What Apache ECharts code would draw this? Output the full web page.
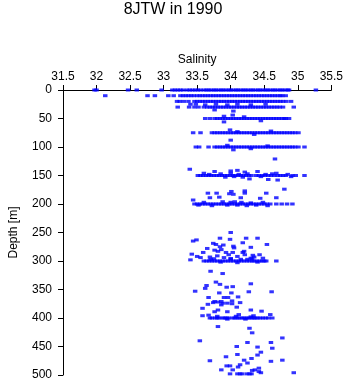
<!DOCTYPE html>
<html><head><meta charset="utf-8">
<script src="https://cdn.jsdelivr.net/npm/echarts@6/dist/echarts.min.js"></script>
<style>html,body{margin:0;padding:0;background:#fff}#c{width:346px;height:384px}</style>
</head><body><div id="c"></div>
<script>
// Salinity ticks
const salTicks = [31.5, 32, 32.5, 33, 33.5, 34, 34.5, 35, 35.5];
const depthTicks = [0, 50, 100, 150, 200, 250, 300, 350, 400, 450, 500];

// Dense standard-depth rows: salinity values read at each depth
const row0 = [31.97,32.00,32.47,32.60,32.97,33.13,33.17,33.21,33.25,33.29,33.35,33.39,33.43,33.47,33.51,33.55,
  33.60,33.64,33.67,33.71,33.75,33.78,33.82,33.86,33.89,33.93,33.97,34.00,34.04,34.08,34.11,34.15,34.19,34.22,
  34.26,34.30,34.33,34.37,34.41,34.44,34.48,34.52,34.55,34.59,34.63,34.66,34.70,34.74,34.77,34.81,34.85,34.87,35.27];
const row10 = [32.13,32.76,32.87,33.07,33.15,33.25,33.29,33.33,33.37,33.41,33.45,33.50,33.54,33.58,33.62,33.66,
  33.70,33.74,33.78,33.82,33.86,33.90,33.94,33.98,34.02,34.06,34.10,34.14,34.18,34.22,34.26,34.30,34.34,34.38,
  34.42,34.46,34.50,34.54,34.58,34.62,34.66,34.70,34.74,34.77,34.82];
const row20 = [33.20,33.24,33.30,33.37,33.46,33.50,33.54,33.58,33.62,33.66,33.70,33.74,33.78,33.82,33.86,33.90,
  33.94,33.98,34.02,34.06,34.10,34.14,34.18,34.22,34.26,34.30,34.34,34.38,34.42,34.46,34.50,34.54,34.58,34.62,
  34.66,34.70,34.74,34.78,34.83,34.90];
const row30 = [33.21,33.38,33.46,33.52,33.60,33.65,33.69,33.73,33.77,33.81,33.85,33.89,33.93,33.97,34.01,34.05,
  34.09,34.13,34.17,34.21,34.25,34.29,34.33,34.37,34.41,34.45,34.49,34.53,34.57,34.61,34.65,34.69,34.73,34.78,34.94];
const row50 = [33.62,33.69,33.76,33.80,33.84,33.88,33.92,33.96,34.00,34.04,34.08,34.12,34.16,34.20,34.24,34.28,
  34.32,34.36,34.40,34.44,34.48,34.52,34.56,34.60,34.64,34.68,34.72,34.76,34.80,34.82,34.87];
const row75 = [33.44,33.55,33.72,33.76,33.80,33.84,33.88,33.92,33.96,34.00,34.04,34.08,34.12,34.16,34.20,34.24,
  34.28,34.32,34.36,34.40,34.44,34.48,34.52,34.56,34.60,34.64,34.68,34.72,34.76,34.80,34.84,34.88,34.92,34.96,35.01];
const row100 = [33.48,33.53,33.67,33.76,33.80,33.84,33.88,33.92,33.96,34.00,34.04,34.08,34.12,34.16,34.20,34.24,
  34.28,34.32,34.36,34.40,34.44,34.48,34.52,34.56,34.60,34.64,34.68,34.72,34.76,34.80,34.84,34.88,34.92,34.96,35.01,35.10];
const row150 = [33.51,33.55,33.59,33.63,33.67,33.71,33.75,33.79,33.83,33.87,33.91,33.95,33.99,34.03,34.07,34.11,
  34.15,34.19,34.23,34.27,34.31,34.38,34.42,34.47,34.51,34.56,34.60,34.65,34.70,34.74,34.78,34.82,34.92,34.97,35.10];
const row200 = [33.46,33.50,33.54,33.58,33.62,33.66,33.70,33.74,33.78,33.82,33.86,33.90,33.94,33.98,34.02,34.06,
  34.10,34.14,34.18,34.22,34.26,34.30,34.34,34.38,34.42,34.46,34.50,34.54,34.59,34.68,34.76,34.84,34.92];
const row300 = [33.60,33.64,33.68,33.72,33.76,33.80,33.84,33.88,33.92,33.96,34.00,34.04,34.08,34.12,34.16,34.20,
  34.24,34.28,34.32,34.35,34.39,34.43,34.47,34.50,34.53,34.68];
const row400 = [33.69,33.72,33.77,33.80,33.83,33.88,33.91,33.94,33.97,34.03,34.06,34.10,34.13,34.17,34.20,34.24,
  34.27,34.31,34.34,34.37,34.40,34.44,34.48,34.52,34.56,34.62];

// Observations just off the standard depths [salinity, depth]
const nearRows = [[33.40,25],[33.48,25],[33.62,26],[33.78,25],[33.95,26],[34.10,25],[34.30,26],[34.52,25],
  [33.90,46],[34.20,47],[34.45,54],[34.10,73],[34.35,78],[34.60,72],[33.95,97],[34.30,103],[34.55,98],
  [33.60,146],[33.68,148],[33.85,147],[33.92,153],[34.00,146],[34.05,152],[34.12,148],[34.18,153],
  [34.25,147],[34.45,152],[34.52,148],[34.62,147],[34.85,148],[34.90,152],
  [33.52,202],[33.60,197],[33.72,203],[33.88,196],[33.95,202],[34.00,197],[34.06,196],[34.10,202],
  [34.16,197],[34.24,203],[34.30,198],[34.38,202],[34.48,197],[34.55,203],
  [33.70,297],[33.85,302],[34.00,296],[34.10,303],[34.25,297],[34.32,296],[34.40,302],
  [33.80,397],[33.95,402],[34.08,397],[34.22,402],[34.30,398]];

// Scattered observations [salinity, depth]
const scatterShallow = [[33.76,35],[34.04,37],[34.03,44],[33.90,56],[33.99,70],[34.00,88],[34.04,105],
  [34.66,121],[33.39,139],[33.76,143],[34.00,142],[34.10,141],[34.21,144],[34.40,143],[34.68,146],
  [34.28,156],[34.56,157],[34.70,158],[34.80,174],[34.01,178],[34.21,177],[33.66,181],[33.79,181],
  [33.98,182],[34.04,183],[34.21,181],[34.53,181],[33.69,189],[33.83,188],[34.15,189],[34.44,190],
  [34.68,189],[33.44,193]];
const scatter250 = [[34.00,250],[33.84,260],[33.99,262],[34.23,260],[34.40,260],[33.44,265],[33.49,263],
  [34.18,268],[33.74,269],[33.78,271],[34.54,271],[33.89,272],[34.04,274],[33.84,275],[34.05,277],
  [33.65,278],[34.30,276],[33.76,281],[33.81,283],[33.86,280],[33.59,285],[33.93,285],[34.03,285],
  [34.18,285],[34.20,283],[33.42,288],[34.21,289],[34.43,289],[34.33,290],[34.35,293],[33.50,292],
  [33.55,294],[33.69,293],[33.80,291],[33.90,294],[33.97,289],[34.10,292],[34.30,295],[34.48,295],
  [33.40,298],[33.75,296],[34.00,296],[34.15,297]];
const scatter350 = [[33.70,318],[33.88,322],[33.78,337],[33.84,341],[34.30,340],[33.64,343],[33.94,346],
  [34.03,345],[33.62,348],[33.47,353],[33.83,356],[34.01,356],[34.27,354],[34.61,354],[33.67,364],
  [33.90,364],[33.96,364],[34.11,363],[34.02,370],[33.76,371],[33.81,372],[33.86,371],[33.66,376],
  [33.74,373],[33.88,374],[33.95,374],[34.14,373],[34.02,375],[33.86,377],[34.09,381],[33.58,383],
  [33.81,386],[34.30,386],[33.76,389],[33.95,389],[34.46,388],[34.12,394],[34.59,394],[33.67,395],
  [33.58,396],[34.34,396]];
const scatterDeep = [[33.81,415],[34.28,418],[34.32,426],[34.77,435],[33.54,440],[34.25,443],[34.60,443],
  [34.09,450],[34.40,451],[34.62,453],[34.45,460],[34.10,464],[34.40,465],[33.93,468],[34.31,471],
  [34.77,474],[34.20,474],[33.69,475],[34.60,476],[34.25,479],[34.14,482],[33.94,484],[33.99,484],
  [34.11,486],[34.42,488],[33.86,491],[34.03,491],[34.32,492],[34.36,491],[34.42,494],[34.45,496],
  [34.94,496],[33.99,498],[34.10,498],[34.14,498],[34.17,498],[34.24,498],[34.28,498],[34.31,498]];

const rows = [[0,row0],[10,row10],[20,row20],[30,row30],[50,row50],[75,row75],[100,row100],
  [150,row150],[200,row200],[300,row300],[400,row400]];
const points = [];
rows.forEach(([d, arr]) => arr.forEach(s => points.push([s, d])));
[nearRows, scatterShallow, scatter250, scatter350, scatterDeep].forEach(a => a.forEach(p => points.push(p)));

const font = 'Liberation Sans, Arial, Helvetica, sans-serif';
const chart = echarts.init(document.getElementById('c'), null, {renderer: 'canvas'});
chart.setOption({
  animation: false,
  backgroundColor: '#fff',
  title: {text: '8JTW in 1990', left: 'center', top: -3,
    textStyle: {fontFamily: font, fontSize: 16, fontWeight: 'normal', color: '#000'}},
  grid: {left: 47, right: 14, top: 90, bottom: 9, containLabel: false},
  xAxis: {type: 'value', position: 'top', min: salTicks[0], max: salTicks[salTicks.length-1], interval: 0.5,
    name: 'Salinity', nameLocation: 'middle', nameGap: 23,
    nameTextStyle: {fontFamily: font, fontSize: 12, color: '#000'},
    axisLine: {show: true, onZero: false, lineStyle: {color: '#000', width: 1}},
    axisTick: {show: true, length: 5, lineStyle: {color: '#000'}},
    axisLabel: {fontFamily: font, fontSize: 12, color: '#000', margin: 7, formatter: v => String(v)},
    splitLine: {show: false}},
  yAxis: {type: 'value', inverse: true, min: depthTicks[0], max: depthTicks[depthTicks.length-1], interval: 50,
    name: 'Depth [m]', nameLocation: 'middle', nameGap: 43, nameRotate: 90,
    nameTextStyle: {fontFamily: font, fontSize: 12, color: '#000'},
    axisLine: {show: true, onZero: false, lineStyle: {color: '#000', width: 1}},
    axisTick: {show: true, length: 5, lineStyle: {color: '#000'}},
    axisLabel: {fontFamily: font, fontSize: 12, color: '#000', margin: 11},
    splitLine: {show: false}},
  series: [{type: 'scatter', data: points, symbol: 'rect', symbolSize: [4.5, 3],
    itemStyle: {color: '#0000ff'}, silent: true}]
});
</script></body></html>
